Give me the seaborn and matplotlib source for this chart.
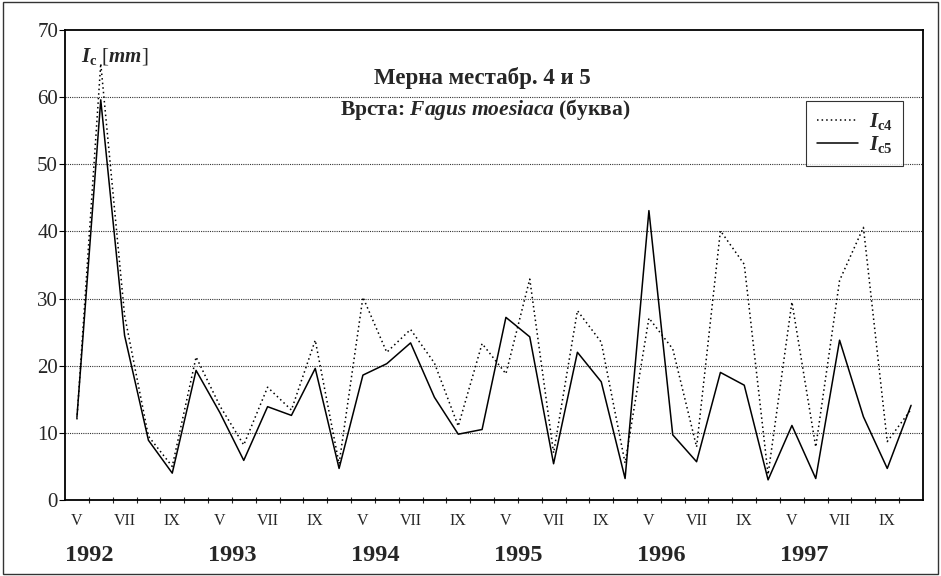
import numpy as np
import pandas as pd
import seaborn as sns
import matplotlib
matplotlib.use('Agg')
import matplotlib.pyplot as plt
from matplotlib.patches import Rectangle

# monthly values V..X for 1992-1997
years = ['1992', '1993', '1994', '1995', '1996', '1997']
months = ['V', 'VI', 'VII', 'VIII', 'IX', 'X']
month_labels = ['V', 'VII', 'IX']

ic4 = [12, 65, 27.5, 9.5, 5, 21.3,
       14, 8.2, 16.8, 13.4, 23.8, 5.4,
       30.2, 22, 25.4, 20.4, 11, 23.3,
       18.8, 32.9, 7, 28.2, 23.5, 5.5,
       27.1, 22.5, 7.9, 40.1, 35.1, 3.8,
       29.5, 7.9, 32.7, 40.6, 8.7, 13.5]
ic5 = [12.3, 59.6, 24.5, 8.9, 4, 19.3,
       13, 5.9, 13.9, 12.6, 19.6, 4.7,
       18.6, 20.3, 23.4, 15.3, 9.8, 10.5,
       27.2, 24.3, 5.4, 22, 17.6, 3.2,
       43.1, 9.7, 5.7, 19, 17.1, 3,
       11.1, 3.2, 23.8, 12.4, 4.7, 14.1]

title1 = 'Мерна местабр. 4 и 5'
title2 = r'Врста: $\mathbfit{Fagus\ moesiaca}$ (буква)'

sns.set_style('white')
plt.rcParams['font.family'] = ['Liberation Serif', 'DejaVu Serif']
plt.rcParams['mathtext.fontset'] = 'custom'
plt.rcParams['mathtext.rm'] = 'Liberation Serif'
plt.rcParams['mathtext.it'] = 'Liberation Serif:italic'
plt.rcParams['mathtext.bf'] = 'Liberation Serif:bold'
plt.rcParams['mathtext.bfit'] = 'Liberation Serif:italic:bold'

idx = np.arange(len(ic4))
df = pd.DataFrame({'idx': idx, 'ic4': ic4, 'ic5': ic5})

fig = plt.figure(figsize=(9.41, 5.76), dpi=100)
ax = fig.add_axes([65 / 941, 76 / 576, 858 / 941, 470 / 576])

sns.lineplot(data=df, x='idx', y='ic4', ax=ax, color='black',
             linestyle=(0, (1, 2)), linewidth=1.1, label=r'$\mathbfit{I}_{\mathbf{c4}}$')
sns.lineplot(data=df, x='idx', y='ic5', ax=ax, color='black',
             linewidth=1.1, label=r'$\mathbfit{I}_{\mathbf{c5}}$')

ax.set_xlim(-0.5, len(idx) - 0.5)
ax.set_ylim(0, 70)
ax.set_yticks(range(0, 71, 10))
ax.tick_params(axis='y', labelsize=15, length=4, width=0.8, color='black', left=True, pad=1)

# horizontal dotted grid
for v in range(10, 70, 10):
    ax.axhline(v, color='#333333', linestyle=(0, (1, 1)), linewidth=0.8, zorder=0)

# x ticks: boundaries between months, labels below
ax.set_xticks(idx[:-1] + 0.5, minor=True)
ax.set_xticks([])
ax.tick_params(axis='x', which='minor', direction='inout', length=5, width=0.8, bottom=True)
trans = ax.get_xaxis_transform()
for k, yr in enumerate(years):
    for m, lab in enumerate(month_labels):
        ax.text(6 * k + 2 * m, -0.045, lab, transform=trans, ha='center', va='center', fontsize=11.5)
    ax.text(6 * k + 0.5, -0.119, yr, transform=trans, ha='center', va='center',
            fontsize=17.5, fontweight='bold')

ax.set_xlabel('')
ax.set_ylabel('')

for s in ax.spines.values():
    s.set_visible(True)
    s.set_color('black')
    s.set_linewidth(1.3)

ax.text(0.019, 0.943, r'$\mathbfit{I}_{\mathbf{c}}$ $[\mathbfit{mm}]$', transform=ax.transAxes,
        ha='left', va='center', fontsize=15)
ax.text(0.487, 0.898, title1, transform=ax.transAxes, ha='center', va='center',
        fontsize=16.5, fontweight='bold')
ax.text(0.49, 0.83, title2, transform=ax.transAxes, ha='center', va='center',
        fontsize=15.5, fontweight='bold')

leg = ax.legend(loc='upper right', bbox_to_anchor=(0.977, 0.849), borderaxespad=0,
                fontsize=15, frameon=True, fancybox=False, handlelength=2.0,
                borderpad=0.5, labelspacing=0.1, handletextpad=0.5)
leg.get_frame().set_edgecolor('black')
leg.get_frame().set_linewidth(0.8)

fig.patches.append(Rectangle((0.003, 0.003), 0.994, 0.994, transform=fig.transFigure,
                             fill=False, edgecolor='#333333', linewidth=1.0))

fig.savefig('out.png', dpi=100)
